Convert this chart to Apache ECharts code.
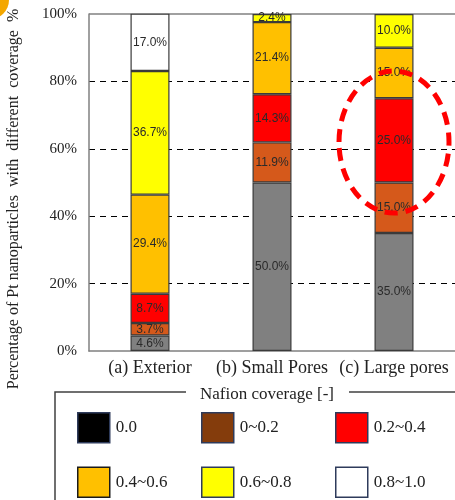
<!DOCTYPE html>
<html>
<head>
<meta charset="utf-8">
<script src="https://cdn.jsdelivr.net/npm/echarts@6/dist/echarts.min.js"></script>
<style>
  html, body { margin: 0; padding: 0; background: #fff; }
  #chart { width: 455px; height: 500px; }
</style>
</head>
<body>
<div id="chart"></div>
<script>
// Pore locations along the x axis
const categories = ['(a) Exterior', '(b) Small Pores', '(c) Large pores'];

// Share of Pt nanoparticles (%) in each Nafion coverage range
const cov00   = [4.6, 50.0, 35.0];
const cov0002 = [3.7, 11.9, 15.0];
const cov0204 = [8.7, 14.3, 25.0];
const cov0406 = [29.4, 21.4, 15.0];
const cov0608 = [36.7, 2.4, 10.0];
const cov0810 = [17.0, null, null];

const rangeNames = ['0.0', '0~0.2', '0.2~0.4', '0.4~0.6', '0.6~0.8', '0.8~1.0'];
const yTicks = [0, 20, 40, 60, 80, 100];

const barColors = ['#808080', '#D5591B', '#FF0000', '#FFC000', '#FFFF00', '#FFFFFF'];
const legendColors = ['#000000', '#843C0C', '#FF0000', '#FFC000', '#FFFF00', '#FFFFFF'];

const seriesValues = [cov00, cov0002, cov0204, cov0406, cov0608, cov0810];

const serif = '"Liberation Serif", "Times New Roman", serif';
const sans = '"Liberation Sans", Arial, sans-serif';

const chart = echarts.init(document.getElementById('chart'), null, { renderer: 'canvas' });

const series = seriesValues.map((vals, i) => ({
  name: rangeNames[i],
  type: 'bar',
  stack: 'total',
  barWidth: 39,
  data: vals,
  itemStyle: { color: barColors[i], borderColor: '#3a3a3a', borderWidth: 1.2 },
  label: {
    show: true,
    position: 'inside',
    formatter: p => (p.value == null ? '' : p.value.toFixed(1) + '%'),
    fontFamily: sans,
    fontSize: 12,
    color: '#2a2a2a'
  },
  emphasis: { disabled: true }
}));

function legendCol(names, left) {
  return {
    orient: 'vertical',
    left: left,
    top: 412,
    padding: 0,
    itemWidth: 32,
    itemHeight: 30,
    itemGap: 23,
    selectedMode: false,
    textStyle: { fontFamily: serif, fontSize: 17, color: '#222', padding: [0, 0, 0, 1] },
    data: names.map(n => {
      const k = rangeNames.indexOf(n);
      return {
        name: n,
        icon: 'rect',
        itemStyle: {
          color: legendColors[k],
          borderColor: k === 3 ? '#1a1a1a' : '#2E3B5B',
          borderWidth: 1.5
        }
      };
    })
  };
}

chart.setOption({
  animation: false,
  grid: { left: 89, top: 14, width: 367, height: 337 },
  xAxis: {
    type: 'category',
    data: categories,
    axisLine: { lineStyle: { color: '#808080', width: 1.5 } },
    axisTick: { show: false },
    axisLabel: { interval: 0, hideOverlap: false, fontFamily: serif, fontSize: 18, color: '#222', margin: 8 }
  },
  yAxis: {
    type: 'value',
    min: yTicks[0],
    max: yTicks[yTicks.length - 1],
    interval: 20,
    axisLine: { show: true, lineStyle: { color: '#808080', width: 1.5 } },
    axisTick: { show: false },
    axisLabel: { fontFamily: serif, fontSize: 15, color: '#222', margin: 12, formatter: '{value}%' },
    splitLine: {
      show: true, showMinLine: false, showMaxLine: false,
      lineStyle: { color: '#000', type: [6, 5], width: 1 }
    }
  },
  legend: [
    legendCol(['0.0', '0.4~0.6'], 77),
    legendCol(['0~0.2', '0.6~0.8'], 201),
    legendCol(['0.2~0.4', '0.8~1.0'], 335)
  ],
  series: series
});

// Position of the highlighting ellipse around the red/brown segments of the large pores bar
const ellipseCenter = chart.convertToPixel({ xAxisIndex: 0, yAxisIndex: 0 }, [categories[2], 62]);

chart.setOption({
  graphic: [
    // top frame line of the plot
    {
      type: 'line', silent: true,
      shape: { x1: 89, y1: 14, x2: 456, y2: 14 },
      style: { stroke: '#808080', lineWidth: 1.5 }
    },
    // badge partly outside the page corner
    {
      type: 'circle', silent: true,
      shape: { cx: -10, cy: 0, r: 19 },
      style: { fill: '#F4A700' }
    },
    // y axis title
    {
      type: 'text', silent: true,
      x: 14, y: 199, rotation: Math.PI / 2,
      style: {
        text: 'Percentage of Pt nanoparticles  with  different  coverage  %',
        font: '16px ' + serif,
        fill: '#222',
        align: 'center',
        verticalAlign: 'middle'
      }
    },
    // dashed ellipse annotation
    {
      type: 'ellipse', silent: true, z: 100,
      shape: { cx: ellipseCenter[0], cy: ellipseCenter[1], rx: 55, ry: 71 },
      style: { fill: 'none', stroke: '#FF0000', lineWidth: 5, lineDash: [13, 8] }
    },
    // legend frame
    {
      type: 'polyline', silent: true,
      shape: { points: [[186, 392], [55, 392], [55, 505]] },
      style: { fill: 'none', stroke: '#404040', lineWidth: 1.5 }
    },
    {
      type: 'line', silent: true,
      shape: { x1: 349, y1: 392, x2: 460, y2: 392 },
      style: { stroke: '#404040', lineWidth: 1.5 }
    },
    {
      type: 'text', silent: true,
      x: 267, y: 395,
      style: {
        text: 'Nafion coverage [-]',
        font: '17px ' + serif,
        fill: '#222',
        align: 'center',
        verticalAlign: 'middle'
      }
    }
  ]
});
</script>
</body>
</html>
